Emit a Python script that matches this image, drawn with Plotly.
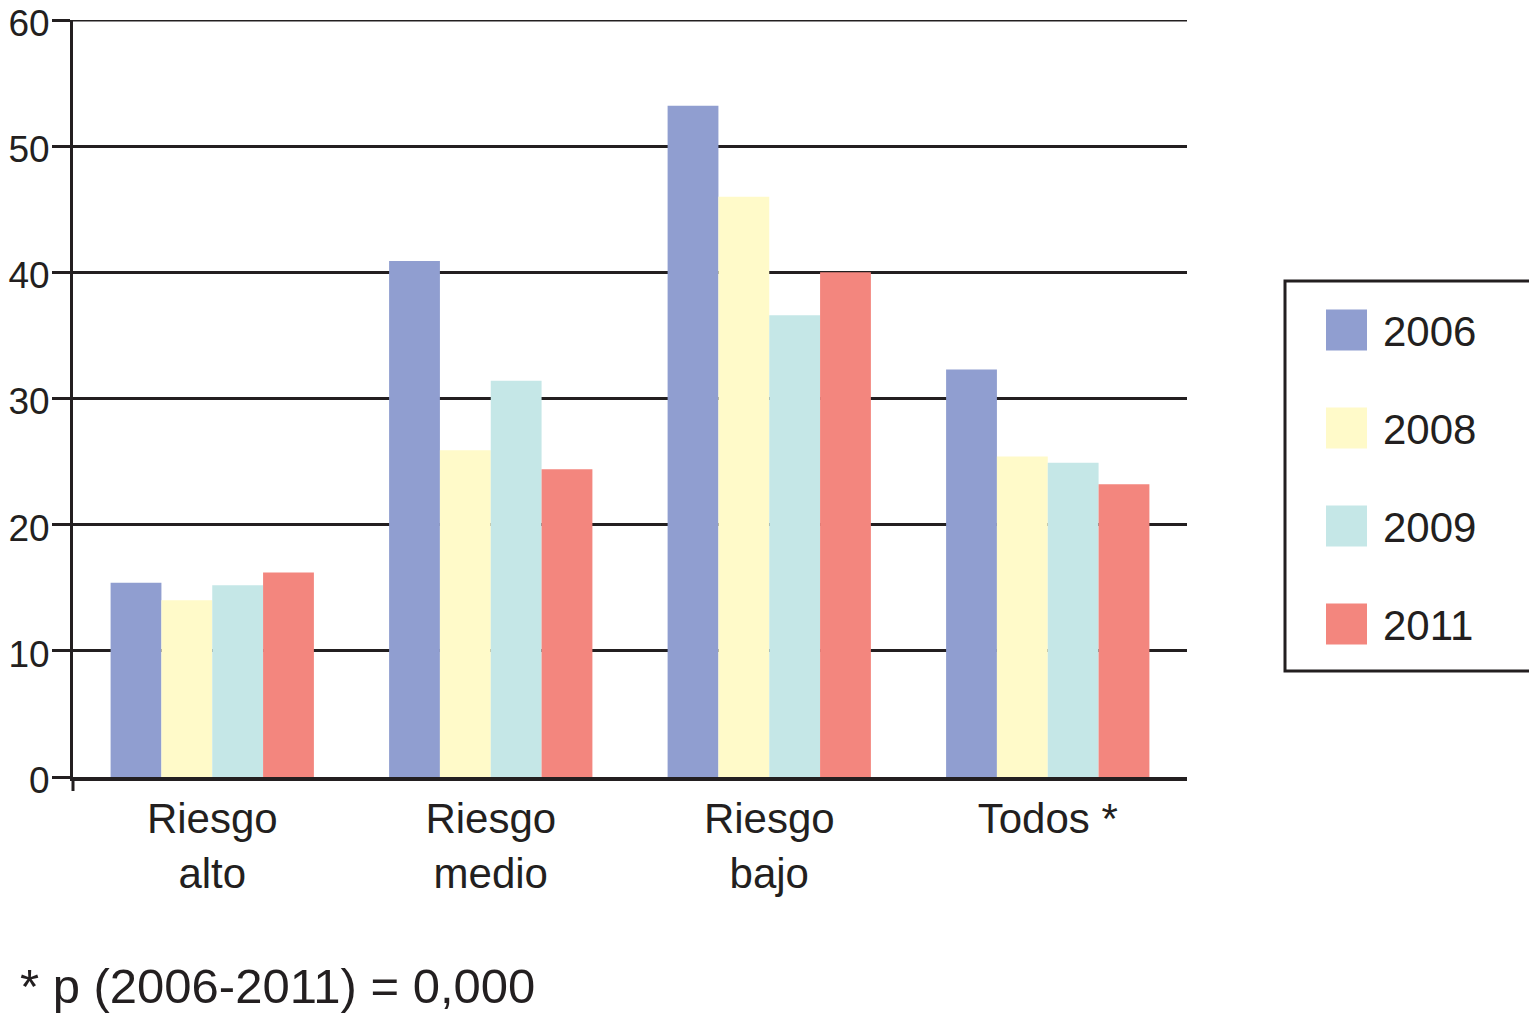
import plotly.graph_objects as go

categories = ["Riesgo<br>alto", "Riesgo<br>medio", "Riesgo<br>bajo", "Todos *"]
years = ["2006", "2008", "2009", "2011"]
values_2006 = [15.4, 40.9, 53.2, 32.3]
values_2008 = [14.0, 25.9, 46.0, 25.4]
values_2009 = [15.2, 31.4, 36.6, 24.9]
values_2011 = [16.2, 24.4, 40.0, 23.2]
colors = ["#909ED0", "#FFFAC9", "#C5E7E7", "#F3867E"]
y_ticks = [0, 10, 20, 30, 40, 50, 60]
footnote = "* p (2006-2011) = 0,000"

series = [values_2006, values_2008, values_2009, values_2011]
INK = "#231F20"
FONT = "Liberation Sans, Arial, Helvetica, sans-serif"
FS = 42

# the page body adds an 8px offset; work in page pixels and compensate
OFF = 8
W, H = 1537 - OFF, 1014 - OFF
L, R, T, B = 73, 1187, 20, 777   # page pixel positions of plot area
pw, ph = R - L, B - T

def px(x):
    return (x - L) / pw

def py(y):
    return (B - y) / ph

fig = go.Figure()
for name, vals, col in zip(years, series, colors):
    fig.add_trace(go.Bar(x=categories, y=vals, name=name, marker_color=col,
                         marker_line_width=0, showlegend=False))

shapes = []
annotations = []
# top gridline (plotly omits grid at the range end)
shapes.append(dict(type="line", xref="paper", yref="y", x0=0, x1=1,
                   y0=y_ticks[-1], y1=y_ticks[-1], line=dict(color=INK, width=3)))
# extension of the y axis below zero
shapes.append(dict(type="line", xref="paper", yref="paper", x0=0, x1=0,
                   y0=py(791), y1=0, line=dict(color=INK, width=3)))
# legend box
shapes.append(dict(type="rect", xref="paper", yref="paper",
                   x0=px(1285), x1=px(1535), y0=py(281), y1=py(671),
                   line=dict(color=INK, width=3), fillcolor="white"))
centers = [330, 428, 526, 624]
for name, col, cy in zip(years, colors, centers):
    shapes.append(dict(type="rect", xref="paper", yref="paper",
                       x0=px(1326), x1=px(1367), y0=py(cy + 20.5), y1=py(cy - 20.5),
                       line=dict(width=0), fillcolor=col))
    annotations.append(dict(text=name, xref="paper", yref="paper", x=px(1381), y=py(cy + 1),
                            xanchor="left", yanchor="middle", showarrow=False,
                            font=dict(family=FONT, size=FS, color=INK)))
annotations.append(dict(text=footnote, xref="paper", yref="paper", x=px(18), y=py(986),
                        xanchor="left", yanchor="middle", showarrow=False,
                        font=dict(family=FONT, size=49, color=INK)))

fig.update_layout(
    width=W, height=H,
    margin=dict(l=L - OFF, r=W - (R - OFF), t=T - OFF, b=H - (B - OFF), pad=0, autoexpand=False),
    paper_bgcolor="white", plot_bgcolor="white",
    font=dict(family=FONT, size=FS, color=INK),
    barmode="group", bargap=0.27, bargroupgap=0,
    shapes=shapes, annotations=annotations,
    xaxis=dict(showline=True, linecolor=INK, linewidth=4, ticks="",
               showgrid=False, zeroline=False, range=[-0.5, 3.5], automargin=False,
               tickfont=dict(family=FONT, size=42, color=INK), ticklabelstandoff=2),
    yaxis=dict(range=[0, 60], tickvals=y_ticks, showline=True, linecolor=INK, linewidth=3,
               showgrid=True, gridcolor=INK, gridwidth=3, zeroline=False, automargin=False,
               ticks="outside", ticklen=18, tickwidth=3, tickcolor=INK,
               ticklabeloverflow="allow", ticklabelshift=3,
               tickfont=dict(family=FONT, size=37, color=INK), ticklabelstandoff=-5),
)

fig.write_html("out.html")
